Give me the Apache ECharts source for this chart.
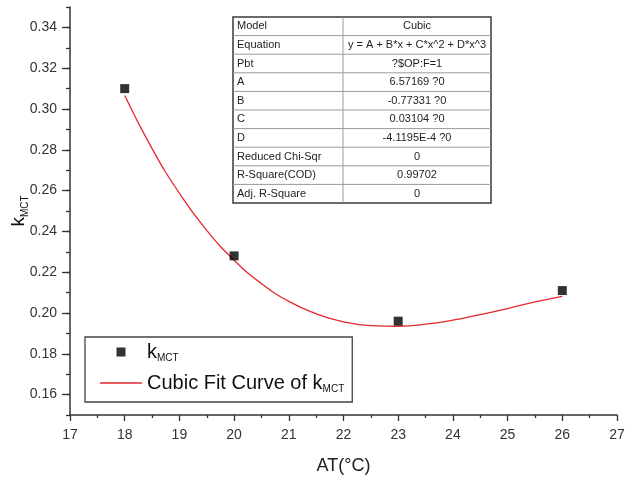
<!DOCTYPE html>
<html>
<head>
<meta charset="utf-8">
<script src="https://cdn.jsdelivr.net/npm/echarts@6/dist/echarts.min.js"></script>
<style>
html,body{margin:0;padding:0;background:#fff;}
#chart{width:640px;height:480px;}
</style>
</head>
<body>
<div id="chart"></div>
<script>
// ---- data ----
const atValues = [18, 20, 23, 26];
const kMCT = [0.310, 0.228, 0.196, 0.211];
const fitX = [18, 18.5, 19, 19.5, 20, 20.5, 21, 21.5, 22, 22.5, 23, 23.5, 24, 24.5, 25, 25.5, 26];
const fitY = [0.3066, 0.2806, 0.2587, 0.2405, 0.2259, 0.2144, 0.2057, 0.1996, 0.1957, 0.1938, 0.1935, 0.1945, 0.1965, 0.1992, 0.2022, 0.2054, 0.2082];
const yTickValues = [0.16, 0.18, 0.20, 0.22, 0.24, 0.26, 0.28, 0.30, 0.32, 0.34];
const tableLabels = ['Model', 'Equation', 'Pbt', 'A', 'B', 'C', 'D', 'Reduced Chi-Sqr', 'R-Square(COD)', 'Adj. R-Square'];
const tableValues = ['Cubic', 'y = A + B*x + C*x^2 + D*x^3', '?$OP:F=1', '6.57169 ?0', '-0.77331 ?0', '0.03104 ?0', '-4.1195E-4 ?0', '0', '0.99702', '0'];

const FONT = '"Liberation Sans", Arial, sans-serif';
const chart = echarts.init(document.getElementById('chart'), null, {renderer: 'canvas'});

// ---- parameter table (annotation) ----
const tblLeft = 233, tblTop = 17, rowH = 18.6, col1W = 110, col2W = 148;
const nRows = tableLabels.length;
const tblW = col1W + col2W, tblH = rowH * nRows;
const tableEls = [];
tableEls.push({type: 'rect', shape: {x: tblLeft, y: tblTop, width: tblW, height: tblH},
  style: {fill: '#fff', stroke: '#3a3a3a', lineWidth: 1.5}, z: 10});
for (let i = 1; i < nRows; i++) {
  tableEls.push({type: 'line', shape: {x1: tblLeft, y1: tblTop + rowH * i, x2: tblLeft + tblW, y2: tblTop + rowH * i},
    style: {stroke: '#9a9a9a', lineWidth: 1}, z: 11});
}
tableEls.push({type: 'line', shape: {x1: tblLeft + col1W, y1: tblTop, x2: tblLeft + col1W, y2: tblTop + tblH},
  style: {stroke: '#9a9a9a', lineWidth: 1}, z: 11});
for (let i = 0; i < nRows; i++) {
  const cy = tblTop + rowH * (i + 0.5);
  tableEls.push({type: 'text', z: 12, style: {x: tblLeft + 4, y: cy, text: tableLabels[i],
    font: '11px ' + FONT, fill: '#1e1e1e', align: 'left', verticalAlign: 'middle'}});
  tableEls.push({type: 'text', z: 12, style: {x: tblLeft + col1W + col2W / 2, y: cy, text: tableValues[i],
    font: '11px ' + FONT, fill: '#1e1e1e', align: 'center', verticalAlign: 'middle'}});
}

const subRich = {
  k: {fontSize: 20, lineHeight: 22, fontFamily: FONT, color: '#111'},
  s: {fontSize: 10, lineHeight: 6, verticalAlign: 'bottom', fontFamily: FONT, color: '#111'}
};
const nameRich = {
  k: {fontSize: 19, lineHeight: 22, fontFamily: FONT, color: '#111'},
  s: {fontSize: 10, lineHeight: 6, verticalAlign: 'bottom', fontFamily: FONT, color: '#111'}
};

const option = {
  backgroundColor: '#fff',
  animation: false,
  grid: {left: 70, right: 23, top: 7, bottom: 65, containLabel: false, outerBoundsMode: 'none'},
  xAxis: {
    type: 'value', min: 17, max: 27, interval: 1,
    name: 'AT(°C)', nameLocation: 'middle', nameGap: 42, nameMoveOverlap: false,
    nameTextStyle: {fontSize: 18, fontFamily: FONT, color: '#222'},
    axisLine: {lineStyle: {color: '#333', width: 1.5}},
    axisTick: {length: 6, lineStyle: {color: '#333', width: 1.3}},
    minorTick: {show: true, splitNumber: 2, length: 3, lineStyle: {color: '#333', width: 1.3}},
    axisLabel: {fontSize: 14, fontFamily: FONT, color: '#333', margin: 13},
    splitLine: {show: false}
  },
  yAxis: [{
    type: 'value', min: 0.15, max: 0.35,
    name: '{k|k}{s|MCT}', nameLocation: 'middle', nameGap: 40, nameRotate: 90, nameMoveOverlap: false,
    nameTextStyle: {rich: nameRich},
    axisLine: {lineStyle: {color: '#333', width: 1.5}},
    axisTick: {length: 8, customValues: yTickValues, lineStyle: {color: '#333', width: 1.3}},
    axisLabel: {customValues: yTickValues, fontSize: 14, fontFamily: FONT, color: '#333', margin: 13,
      formatter: v => Number(v).toFixed(2)},
    splitLine: {show: false}
  }, {
    type: 'value', min: 0.15, max: 0.35, interval: 0.01, position: 'left',
    axisLine: {show: false},
    axisTick: {length: 4, lineStyle: {color: '#333', width: 1.3}},
    axisLabel: {show: false},
    splitLine: {show: false}
  }],
  legend: {
    orient: 'vertical', left: 85, top: 337,
    padding: [4, 8, 8, 15], itemGap: 9,
    itemWidth: 42, itemHeight: 9,
    borderColor: '#444', borderWidth: 1.3, backgroundColor: '#fff',
    textStyle: {fontSize: 20, lineHeight: 22, fontFamily: FONT, color: '#111', rich: subRich},
    data: [
      {name: 'kMCT', icon: 'path://M0,0L1,0L1,1L0,1Z'},
      {name: 'Cubic Fit Curve of kMCT', icon: 'path://M0,0L42,0L42,1.3L0,1.3Z'}
    ],
    formatter: function (name) {
      if (name === 'kMCT') return '{k|k}{s|MCT}';
      return 'Cubic Fit Curve of {k|k}{s|MCT}';
    }
  },
  graphic: tableEls,
  series: [{
    name: 'Cubic Fit Curve of kMCT', type: 'line', smooth: 0.5, symbol: 'none',
    data: fitX.map((x, i) => [x, fitY[i]]),
    lineStyle: {color: '#e5282d', width: 1.3}, itemStyle: {color: '#e5282d'}, z: 2
  }, {
    name: 'kMCT', type: 'scatter', symbol: 'rect', symbolSize: 9,
    data: atValues.map((x, i) => [x, kMCT[i]]),
    itemStyle: {color: '#000'}, z: 3
  }]
};
chart.setOption(option);
</script>
</body>
</html>
